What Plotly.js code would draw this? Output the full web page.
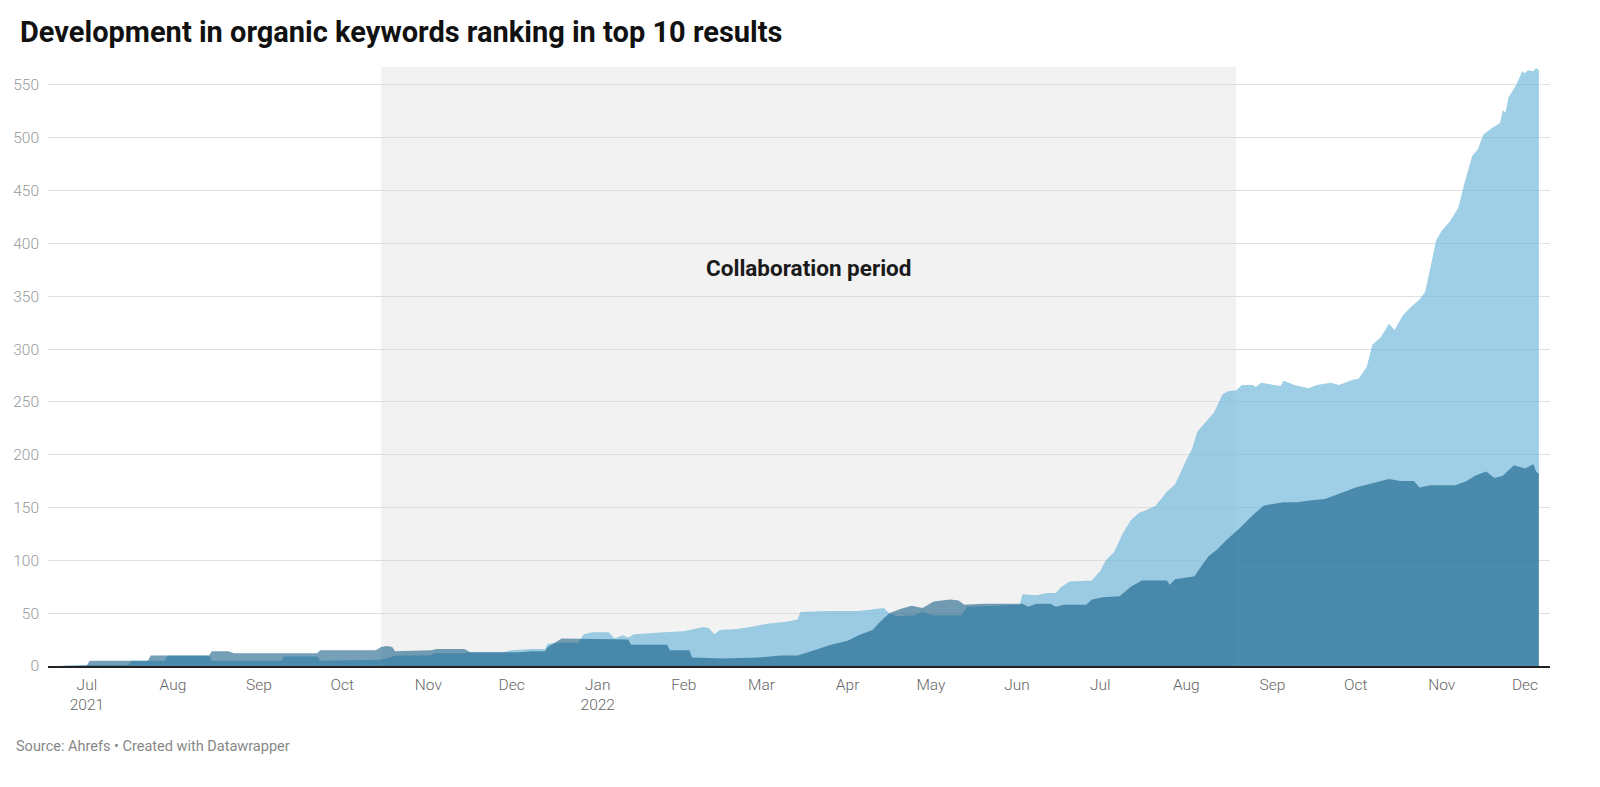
<!DOCTYPE html>
<html>
<head>
<meta charset="utf-8">
<script src="https://cdn.plot.ly/plotly-3.0.1.min.js"></script>
<style>
  html, body { margin: 0; padding: 0; background: #fff; }
  #chart { width: 1600px; height: 787px; }
</style>
</head>
<body>
<div id="chart"></div>
<script>
// keywords in top 10, two series
const lightDates = ['2021-06-21','2021-06-24','2021-07-01','2021-07-16','2021-07-17','2021-07-29','2021-07-30','2021-08-14','2021-08-15','2021-09-09',
  '2021-09-10','2021-09-22','2021-09-23','2021-10-14','2021-10-17','2021-10-20','2021-11-02','2021-11-03','2021-11-14','2021-11-15',
  '2021-11-28','2021-12-01','2021-12-08','2021-12-13','2021-12-14','2021-12-19','2021-12-25','2021-12-27','2021-12-30','2022-01-05',
  '2022-01-07','2022-01-10','2022-01-12','2022-01-14','2022-01-25','2022-02-01','2022-02-08','2022-02-10','2022-02-12','2022-02-14',
  '2022-02-20','2022-02-25','2022-03-03','2022-03-10','2022-03-14','2022-03-15','2022-03-25','2022-04-05','2022-04-14','2022-04-16',
  '2022-04-19','2022-04-25','2022-04-28','2022-05-02','2022-05-12','2022-05-14','2022-05-25','2022-06-02','2022-06-03','2022-06-08',
  '2022-06-12','2022-06-15','2022-06-17','2022-06-20','2022-06-28','2022-07-01','2022-07-03','2022-07-06','2022-07-09','2022-07-12',
  '2022-07-15','2022-07-18','2022-07-21','2022-07-25','2022-07-28','2022-08-01','2022-08-03','2022-08-05','2022-08-08','2022-08-11',
  '2022-08-14','2022-08-16','2022-08-19','2022-08-21','2022-08-25','2022-08-26','2022-08-28','2022-09-04','2022-09-05','2022-09-09',
  '2022-09-14','2022-09-17','2022-09-22','2022-09-25','2022-09-30','2022-10-02','2022-10-05','2022-10-07','2022-10-10','2022-10-13',
  '2022-10-15','2022-10-18','2022-10-21','2022-10-24','2022-10-26','2022-10-28','2022-10-30','2022-11-01','2022-11-04','2022-11-07',
  '2022-11-09','2022-11-12','2022-11-14','2022-11-16','2022-11-19','2022-11-22','2022-11-23','2022-11-24','2022-11-25','2022-11-28',
  '2022-11-30','2022-12-01','2022-12-02','2022-12-04','2022-12-05','2022-12-06'];
const lightValues = [0,0.5,1,1,5,5,10,10,5,5,
  9,9,5,6,7,10,10,12,12,13,
  13,15,16,16,21,22,22,30,32,32,
  26,29,27,30,32,33,37,36,30,34,
  35,37,40,42,44,51,52,52,55,50,
  47,48,51,48,48,56,57,58,68,67,
  69,69,75,80,81,90,100,108,125,138,
  145,148,152,165,172,195,205,222,231,240,
  257,260,261,266,266,264,268,265,270,266,
  263,266,268,266,271,272,283,304,311,324,
  318,332,340,347,354,378,403,412,421,434,
  455,483,489,503,509,514,526,524,538,551,
  563,561,564,563,566,564];

const darkDates = ['2021-06-21','2021-07-01','2021-07-02','2021-07-23','2021-07-24','2021-08-14','2021-08-15','2021-08-21','2021-08-23','2021-09-22',
  '2021-09-23','2021-10-13','2021-10-15','2021-10-17','2021-10-19','2021-10-20','2021-11-02','2021-11-04','2021-11-14','2021-11-16',
  '2021-12-04','2021-12-08','2021-12-13','2021-12-14','2021-12-19','2022-01-12','2022-01-13','2022-01-26','2022-01-27','2022-02-03',
  '2022-02-04','2022-02-15','2022-02-28','2022-03-08','2022-03-14','2022-03-20','2022-03-26','2022-04-01','2022-04-05','2022-04-10',
  '2022-04-12','2022-04-16','2022-04-20','2022-04-24','2022-04-28','2022-05-02','2022-05-08','2022-05-11','2022-05-13','2022-05-20',
  '2022-06-03','2022-06-05','2022-06-08','2022-06-13','2022-06-15','2022-06-18','2022-06-26','2022-06-28','2022-07-02','2022-07-08',
  '2022-07-12','2022-07-16','2022-07-25','2022-07-26','2022-07-28','2022-08-04','2022-08-06','2022-08-09','2022-08-12','2022-08-15',
  '2022-08-20','2022-08-25','2022-08-29','2022-09-05','2022-09-10','2022-09-15','2022-09-20','2022-09-25','2022-10-01','2022-10-07',
  '2022-10-13','2022-10-17','2022-10-22','2022-10-24','2022-10-28','2022-11-06','2022-11-10','2022-11-13','2022-11-17','2022-11-20',
  '2022-11-23','2022-11-27','2022-12-01','2022-12-04','2022-12-05','2022-12-06'];
const darkValues = [0,0.5,5,5,10,10,14,14,12,12,
  15,15,18,19,18,14,15,16,16,13,
  13,14,14,18,26,25,20,20,15,15,
  8,7,8,10,10,15,20,24,29,34,
  40,50,54,57,55,61,63,62,58,59,
  59,56,59,59,56,58,58,63,65,66,
  75,81,81,77,82,85,93,104,110,118,
  130,143,152,155,155,157,158,163,169,173,
  177,175,175,169,171,171,175,180,184,178,
  180,190,187,191,184,182];

const tickDates = ['2021-07-01','2021-08-01','2021-09-01','2021-10-01','2021-11-01','2021-12-01','2022-01-01','2022-02-01','2022-03-01',
  '2022-04-01','2022-05-01','2022-06-01','2022-07-01','2022-08-01','2022-09-01','2022-10-01','2022-11-01','2022-12-01'];
const tickLabels = ['Jul<br>2021','Aug','Sep','Oct','Nov','Dec','Jan<br>2022','Feb','Mar',
  'Apr','May','Jun','Jul','Aug','Sep','Oct','Nov','Dec'];

const collabStart = '2021-10-15';
const collabEnd = '2022-08-19';

const traces = [
  {x: lightDates, y: lightValues, type: 'scatter', mode: 'none', fill: 'tozeroy',
   fillcolor: 'rgba(117,186,219,0.7)', hoverinfo: 'skip'},
  {x: darkDates, y: darkValues, type: 'scatter', mode: 'none', fill: 'tozeroy',
   fillcolor: 'rgba(5,82,123,0.55)', hoverinfo: 'skip'}
];

const layout = {
  width: 1600, height: 787,
  margin: {l: 48, r: 50, t: 67, b: 121},
  paper_bgcolor: '#fff', plot_bgcolor: '#fff',
  showlegend: false,
  font: {family: 'Roboto, sans-serif'},
  title: {
    text: 'Development in organic keywords ranking in top 10 results',
    x: 20 / 1600, xanchor: 'left', xref: 'container',
    y: 1 - 32 / 787, yanchor: 'middle', yref: 'container',
    font: {family: 'Roboto', size: 29, weight: 700, color: '#111'}
  },
  xaxis: {
    type: 'date',
    range: ['2021-06-17', '2022-12-10'],
    tickvals: tickDates, ticktext: tickLabels,
    showgrid: false, zeroline: false,
    showline: true, linecolor: '#222', linewidth: 1.5,
    ticks: '', ticklabelstandoff: 4,
    tickfont: {size: 15.5, weight: 300, color: '#666'}
  },
  yaxis: {
    range: [0, 567],
    tickvals: [0, 50, 100, 150, 200, 250, 300, 350, 400, 450, 500, 550],
    gridcolor: '#dedede', gridwidth: 1,
    zeroline: false, ticks: '', ticklabelstandoff: 8,
    tickfont: {size: 15.5, weight: 300, color: '#999'}
  },
  shapes: [{
    type: 'rect', xref: 'x', yref: 'paper', layer: 'below',
    x0: collabStart, x1: collabEnd, y0: 0, y1: 1,
    fillcolor: '#f2f2f2', line: {width: 0}
  }],
  annotations: [
    {x: '2022-03-18', y: 377, xref: 'x', yref: 'y', text: 'Collaboration period',
     showarrow: false, font: {size: 22.5, weight: 700, color: '#1a1a1a'}},
    {x: -34 / 1502, y: -81 / 599, xref: 'paper', yref: 'paper', xanchor: 'left', yanchor: 'middle',
     text: 'Source: Ahrefs • Created with Datawrapper', showarrow: false,
     font: {size: 14.5, color: '#888'}}
  ]
};

Plotly.newPlot('chart', traces, layout, {displayModeBar: false, staticPlot: true});
</script>
</body>
</html>
